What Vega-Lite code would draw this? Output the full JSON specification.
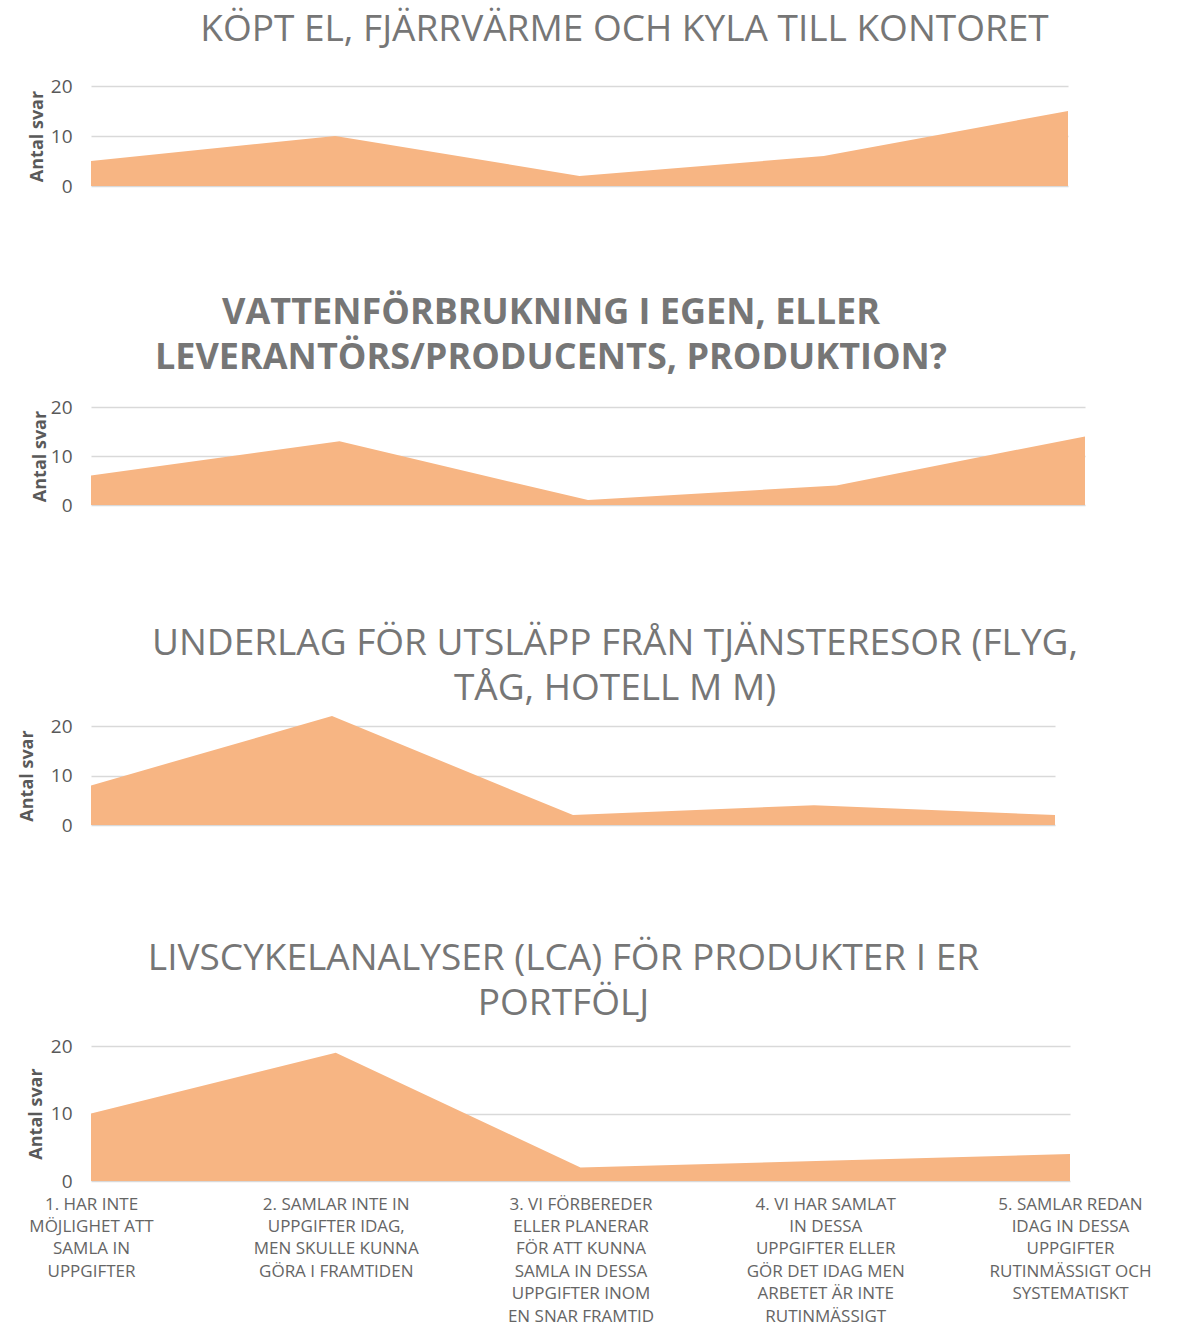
{
  "$schema": "https://vega.github.io/schema/vega-lite/v6.json",
  "background": "white",
  "padding": {"left": 18, "top": 11, "right": 5, "bottom": 2},
  "datasets": {
    "svar": [
      {"panel": 1, "kategori": "1. HAR INTE|MÖJLIGHET ATT|SAMLA IN|UPPGIFTER", "antal": 5},
      {"panel": 1, "kategori": "2. SAMLAR INTE IN|UPPGIFTER IDAG,|MEN SKULLE KUNNA|GÖRA I FRAMTIDEN", "antal": 10},
      {"panel": 1, "kategori": "3. VI FÖRBEREDER|ELLER PLANERAR|FÖR ATT KUNNA|SAMLA IN DESSA|UPPGIFTER INOM|EN SNAR FRAMTID", "antal": 2},
      {"panel": 1, "kategori": "4. VI HAR SAMLAT|IN DESSA|UPPGIFTER ELLER|GÖR DET IDAG MEN|ARBETET ÄR INTE|RUTINMÄSSIGT", "antal": 6},
      {"panel": 1, "kategori": "5. SAMLAR REDAN|IDAG IN DESSA|UPPGIFTER|RUTINMÄSSIGT OCH|SYSTEMATISKT", "antal": 15},
      {"panel": 2, "kategori": "1. HAR INTE|MÖJLIGHET ATT|SAMLA IN|UPPGIFTER", "antal": 6},
      {"panel": 2, "kategori": "2. SAMLAR INTE IN|UPPGIFTER IDAG,|MEN SKULLE KUNNA|GÖRA I FRAMTIDEN", "antal": 13},
      {"panel": 2, "kategori": "3. VI FÖRBEREDER|ELLER PLANERAR|FÖR ATT KUNNA|SAMLA IN DESSA|UPPGIFTER INOM|EN SNAR FRAMTID", "antal": 1},
      {"panel": 2, "kategori": "4. VI HAR SAMLAT|IN DESSA|UPPGIFTER ELLER|GÖR DET IDAG MEN|ARBETET ÄR INTE|RUTINMÄSSIGT", "antal": 4},
      {"panel": 2, "kategori": "5. SAMLAR REDAN|IDAG IN DESSA|UPPGIFTER|RUTINMÄSSIGT OCH|SYSTEMATISKT", "antal": 14},
      {"panel": 3, "kategori": "1. HAR INTE|MÖJLIGHET ATT|SAMLA IN|UPPGIFTER", "antal": 8},
      {"panel": 3, "kategori": "2. SAMLAR INTE IN|UPPGIFTER IDAG,|MEN SKULLE KUNNA|GÖRA I FRAMTIDEN", "antal": 22},
      {"panel": 3, "kategori": "3. VI FÖRBEREDER|ELLER PLANERAR|FÖR ATT KUNNA|SAMLA IN DESSA|UPPGIFTER INOM|EN SNAR FRAMTID", "antal": 2},
      {"panel": 3, "kategori": "4. VI HAR SAMLAT|IN DESSA|UPPGIFTER ELLER|GÖR DET IDAG MEN|ARBETET ÄR INTE|RUTINMÄSSIGT", "antal": 4},
      {"panel": 3, "kategori": "5. SAMLAR REDAN|IDAG IN DESSA|UPPGIFTER|RUTINMÄSSIGT OCH|SYSTEMATISKT", "antal": 2},
      {"panel": 4, "kategori": "1. HAR INTE|MÖJLIGHET ATT|SAMLA IN|UPPGIFTER", "antal": 10},
      {"panel": 4, "kategori": "2. SAMLAR INTE IN|UPPGIFTER IDAG,|MEN SKULLE KUNNA|GÖRA I FRAMTIDEN", "antal": 19},
      {"panel": 4, "kategori": "3. VI FÖRBEREDER|ELLER PLANERAR|FÖR ATT KUNNA|SAMLA IN DESSA|UPPGIFTER INOM|EN SNAR FRAMTID", "antal": 2},
      {"panel": 4, "kategori": "4. VI HAR SAMLAT|IN DESSA|UPPGIFTER ELLER|GÖR DET IDAG MEN|ARBETET ÄR INTE|RUTINMÄSSIGT", "antal": 3},
      {"panel": 4, "kategori": "5. SAMLAR REDAN|IDAG IN DESSA|UPPGIFTER|RUTINMÄSSIGT OCH|SYSTEMATISKT", "antal": 4}
    ]
  },
  "data": {"name": "svar"},
  "bounds": "flush",
  "spacing": 221,
  "config": {
    "view": {"stroke": null},
    "font": "Open Sans",
    "title": {"font": "Open Sans", "fontSize": 37, "fontWeight": "normal", "color": "#767676", "anchor": "middle", "baseline": "bottom", "lineHeight": 45},
    "axisY": {
      "grid": true, "gridColor": "#D9D9D9", "gridWidth": 1.5, "domain": false, "ticks": false,
      "labelFontSize": 19, "labelColor": "#595959", "labelPadding": 19,
      "titleFontSize": 18, "titleFontWeight": "bold", "titleColor": "#595959",
      "labelFont": "Open Sans", "titleFont": "Open Sans"
    }
  },
  "vconcat": [
    {
      "title": {"text": "KÖPT EL, FJÄRRVÄRME OCH KYLA TILL KONTORET", "dx": 45, "offset": 28},
      "width": 977, "height": 100,
      "transform": [{"filter": "datum.panel == 1"}],
      "mark": {"type": "area", "color": "#F7B583", "opacity": 1},
      "encoding": {
        "x": {"field": "kategori", "type": "ordinal", "sort": null, "scale": {"type": "point", "padding": 0}, "axis": null},
        "y": {"field": "antal", "type": "quantitative", "scale": {"domain": [0, 20], "nice": false}, "axis": {"title": "Antal svar", "values": [0, 10, 20], "titlePadding": 4}}
      }
    },
    {
      "title": {"text": ["VATTENFÖRBRUKNING I EGEN, ELLER", "LEVERANTÖRS/PRODUCENTS, PRODUKTION?"], "fontWeight": "bold", "fontSize": 36, "dx": -37, "offset": 21},
      "width": 994, "height": 98,
      "transform": [{"filter": "datum.panel == 2"}],
      "mark": {"type": "area", "color": "#F7B583", "opacity": 1},
      "encoding": {
        "x": {"field": "kategori", "type": "ordinal", "sort": null, "scale": {"type": "point", "padding": 0}, "axis": null},
        "y": {"field": "antal", "type": "quantitative", "scale": {"domain": [0, 20], "nice": false}, "axis": {"title": "Antal svar", "values": [0, 10, 20], "titlePadding": 1}}
      }
    },
    {
      "title": {"text": ["UNDERLAG FÖR UTSLÄPP FRÅN TJÄNSTERESOR (FLYG,", "TÅG, HOTELL M M)"], "dx": 42, "offset": 8},
      "width": 964, "height": 99,
      "transform": [{"filter": "datum.panel == 3"}],
      "mark": {"type": "area", "color": "#F7B583", "opacity": 1},
      "encoding": {
        "x": {"field": "kategori", "type": "ordinal", "sort": null, "scale": {"type": "point", "padding": 0}, "axis": null},
        "y": {"field": "antal", "type": "quantitative", "scale": {"domain": [0, 20], "nice": false}, "axis": {"title": "Antal svar", "values": [0, 10, 20], "titlePadding": 14}}
      }
    },
    {
      "title": {"text": ["LIVSCYKELANALYSER (LCA) FÖR PRODUKTER I ER", "PORTFÖLJ"], "dx": -17, "offset": 14},
      "width": 979, "height": 135,
      "transform": [{"filter": "datum.panel == 4"}],
      "mark": {"type": "area", "color": "#F7B583", "opacity": 1},
      "encoding": {
        "x": {"field": "kategori", "type": "ordinal", "sort": null, "scale": {"type": "point", "padding": 0},
          "axis": {"title": null, "labelAngle": 0, "domain": false, "ticks": false, "grid": false,
            "labelExpr": "split(datum.label, '|')", "labelFontSize": 17, "labelColor": "#656565",
            "labelLineHeight": 22.4, "labelPadding": 15, "labelLimit": 0, "labelOverlap": false,
            "labelBaseline": "top", "labelFont": "Open Sans"}},
        "y": {"field": "antal", "type": "quantitative", "scale": {"domain": [0, 20], "nice": false}, "axis": {"title": "Antal svar", "values": [0, 10, 20], "titlePadding": 5}}
      }
    }
  ]
}
